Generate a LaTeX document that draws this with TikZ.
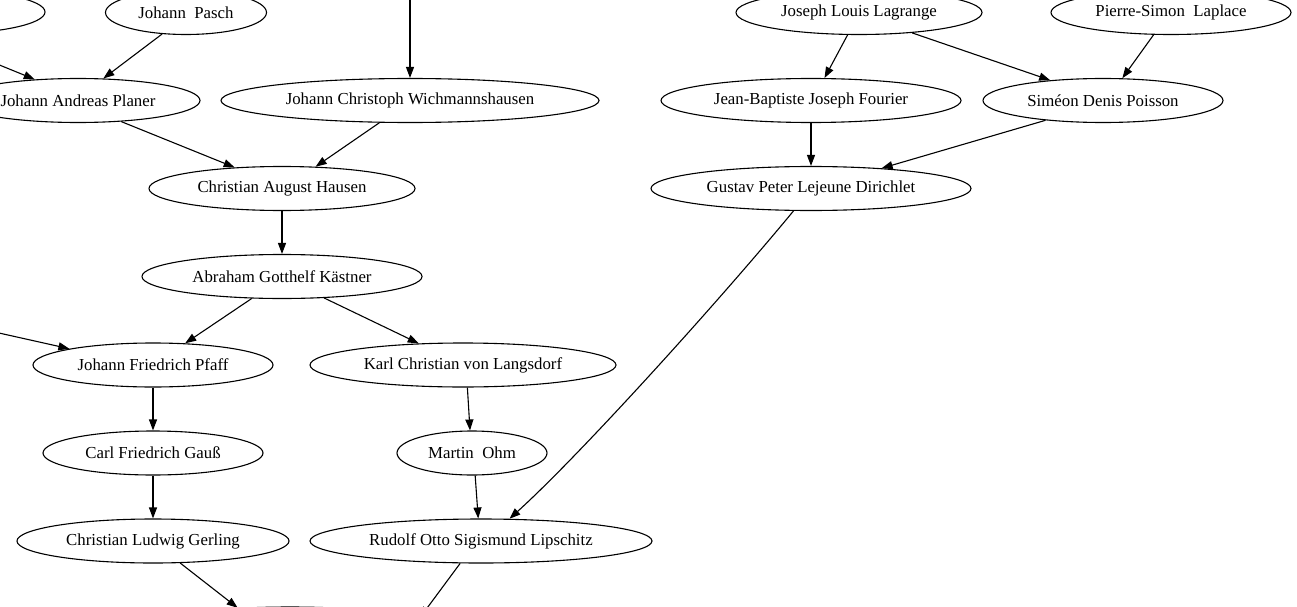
\documentclass[tikz,border=0pt]{standalone}
\usepackage{fontspec}
\setmainfont{Liberation Serif}
\usetikzlibrary{shapes.geometric,arrows.meta}
\tikzset{
  person/.style={ellipse,draw=black,line width=1.1pt,inner sep=0pt,minimum height=44pt,
    font=\fontsize{16.8}{18}\selectfont},
  link/.style={draw=black,line width=1.1pt,-{Triangle[length=11pt,width=8pt]}},
}
\begin{document}
\begin{tikzpicture}[x=1pt,y=-1pt]
\useasboundingbox (0,0) rectangle (1297,607);
\clip (0,0) rectangle (1297,607);
\fill[white] (0,0) rectangle (1297,607);
% nodes
\node[person,minimum width=210pt] (tl) at (-60,12) {};
\node[person,minimum width=161pt] (pasch) at (186,12.5) {Johann~~Pasch};
\node[person,minimum width=244pt] (planer) at (78,100.5) {Johann Andreas Planer};
\node[person,minimum width=378pt] (wich) at (410,100.5) {Johann Christoph Wichmannshausen};
\node[person,minimum width=266pt] (hausen) at (282,188.5) {Christian August Hausen};
\node[person,minimum width=280pt] (kast) at (282,276.5) {Abraham Gotthelf Kästner};
\node[person,minimum width=240pt] (pfaff) at (153,365) {Johann Friedrich Pfaff};
\node[person,minimum width=306pt] (langs) at (463,365) {Karl Christian von Langsdorf};
\node[person,minimum width=220pt] (gauss) at (153,453) {Carl Friedrich Gauß};
\node[person,minimum width=150pt] (ohm) at (472,453) {Martin~~Ohm};
\node[person,minimum width=272pt] (gerling) at (153,541) {Christian Ludwig Gerling};
\node[person,minimum width=342pt] (lip) at (481,541) {Rudolf Otto Sigismund Lipschitz};
\node[person,minimum width=300pt] (bot) at (290,629) {};
\node[person,minimum width=246pt] (lagr) at (859,12.5) {Joseph Louis Lagrange};
\node[person,minimum width=240pt] (lapl) at (1171,12.5) {Pierre-Simon~~Laplace};
\node[person,minimum width=300pt] (four) at (811,100.5) {Jean-Baptiste Joseph Fourier};
\node[person,minimum width=240pt] (pois) at (1103,100.5) {Siméon Denis Poisson};
\node[person,minimum width=320pt] (dir) at (811,188.5) {Gustav Peter Lejeune Dirichlet};
% free ends
\coordinate (inA) at (-30,53);
\coordinate (inB) at (-10,331);
\coordinate (inC) at (410,-10);
% edges
\draw[link] (inA) -- (planer.154.5);
\draw[link] (pasch.-138.5) -- (planer.41.3);
\draw[link] (inC) -- (wich.north);
\draw[link] (planer.-26) -- (hausen.156.9);
\draw[link] (wich.-144.3) -- (hausen.33.3);
\draw[link] (hausen.south) -- (kast.north);
\draw[link] (kast.-144.3) -- (pfaff.34.5);
\draw[link] (kast.-27.6) -- (langs.154);
\draw[link] (inB) -- (pfaff.169.5);
\draw[link] (pfaff.south) -- (gauss.north);
\draw[link] (langs.-79.7) -- (ohm.95.2);
\draw[link] (gauss.south) -- (gerling.north);
\draw[link] (ohm.-82.2) -- (lip.97.8);
\draw[link] (dir.-128.1) .. controls (720,300) and (580,455) .. (lip.38.2);
\draw[link] (gerling.-39.2) -- (bot.158);
\draw[link] (lip.-133.7) -- (bot.5);
\draw[link] (lagr.-117.6) -- (four.59.4);
\draw[link] (lagr.-21.3) -- (pois.159.7);
\draw[link] (lapl.-128.1) -- (pois.49.2);
\draw[link] (four.south) -- (dir.north);
\draw[link] (pois.-161.6) -- (dir.16.6);
\end{tikzpicture}
\end{document}
